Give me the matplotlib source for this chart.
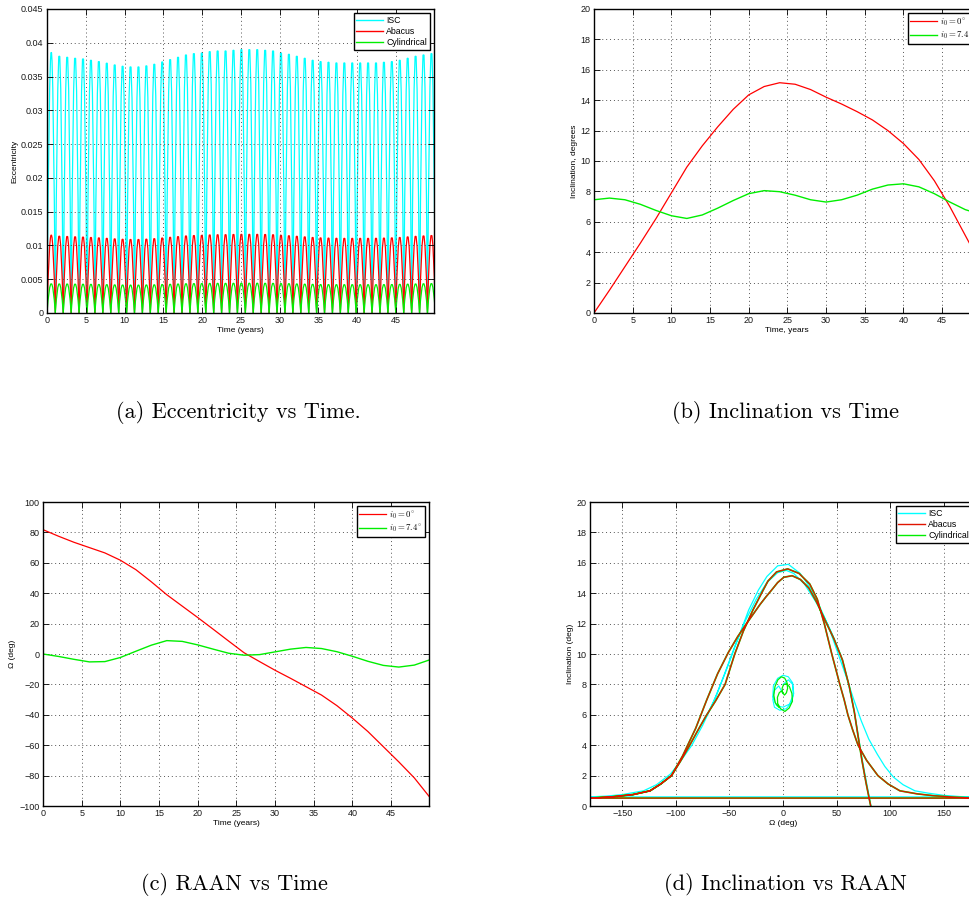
import numpy as np
import matplotlib.pyplot as plt
from matplotlib.path import Path
from matplotlib.patches import PathPatch
from matplotlib.lines import Line2D

plt.rcParams['font.family'] = ['Liberation Sans', 'DejaVu Sans']
plt.rcParams['mathtext.fontset'] = 'cm'

# --- eccentricity: peak value of every orbital cycle ---
ecc_first_peak = 0.56   # years
ecc_period = 1.021      # years
ecc_isc = [0.0387, 0.0386, 0.03845, 0.0383, 0.0382, 0.0380, 0.0378, 0.03756, 0.0373, 0.0371,
           0.0370, 0.0370, 0.03716, 0.0374, 0.03775, 0.0381, 0.03845, 0.0388, 0.0390, 0.0391,
           0.0393, 0.0394, 0.0394, 0.0395, 0.0396, 0.0396, 0.0396, 0.0395, 0.0394, 0.0391,
           0.0389, 0.0386, 0.0383, 0.0380, 0.0378, 0.0377, 0.0376, 0.0376, 0.0376, 0.0376,
           0.0376, 0.0376, 0.0377, 0.0378, 0.0380, 0.0383, 0.0386, 0.0388, 0.0390]
ecc_abacus = [0.01157, 0.01154, 0.01150, 0.01145, 0.01141, 0.01135, 0.01129, 0.01122, 0.01114, 0.01108,
              0.01105, 0.01105, 0.01110, 0.01117, 0.01127, 0.01138, 0.01148, 0.01158, 0.01164, 0.01167,
              0.01173, 0.01176, 0.01177, 0.01180, 0.01182, 0.01182, 0.01182, 0.01180, 0.01176, 0.01168,
              0.01161, 0.01153, 0.01144, 0.01135, 0.01129, 0.01126, 0.01123, 0.01122, 0.01122, 0.01122,
              0.01122, 0.01123, 0.01126, 0.01129, 0.01135, 0.01144, 0.01152, 0.01158, 0.01164]
ecc_cyl = [0.00437, 0.00436, 0.00435, 0.00433, 0.00432, 0.00430, 0.00428, 0.00425, 0.00422, 0.00420,
           0.00419, 0.00419, 0.00421, 0.00423, 0.00427, 0.00431, 0.00435, 0.00439, 0.00441, 0.00442,
           0.00444, 0.00445, 0.00445, 0.00446, 0.00447, 0.00447, 0.00447, 0.00446, 0.00445, 0.00442,
           0.00440, 0.00436, 0.00433, 0.00430, 0.00427, 0.00426, 0.00425, 0.00425, 0.00425, 0.00425,
           0.00425, 0.00425, 0.00426, 0.00427, 0.00430, 0.00433, 0.00436, 0.00439, 0.00441]

# --- slow elements vs time (i0 = 0 deg and i0 = 7.4 deg) ---
t_years = [0, 2, 4, 6, 8, 10, 12, 14, 16, 18, 20, 22, 24, 26, 28, 30, 32, 34, 36, 38, 40,
           42, 44, 46, 48, 49.9]
incl_00 = [0, 1.5, 3.05, 4.6, 6.2, 7.9, 9.6, 11.0, 12.25, 13.4, 14.35, 14.9, 15.15, 15.05, 14.7,
           14.2, 13.75, 13.25, 12.7, 12.0, 11.15, 10.1, 8.7, 7.0, 5.1, 3.3]
incl_74 = [7.45, 7.56, 7.45, 7.15, 6.75, 6.4, 6.22, 6.45, 6.9, 7.4, 7.85, 8.05, 7.98, 7.75, 7.45,
           7.3, 7.45, 7.75, 8.15, 8.42, 8.5, 8.3, 7.85, 7.3, 6.8, 6.5]
raan_00 = [81.8, 77.5, 73.5, 70.0, 66.5, 61.7, 55.5, 47.5, 39.0, 31.5, 24.0, 16.3, 8.5, 0.8, -5.0,
           -10.7, -16.0, -21.5, -27.0, -34.0, -42.2, -51.0, -61.0, -71.0, -81.5, -93.6]
raan_74 = [0, -1.6, -3.5, -5.2, -5.0, -2.3, 1.8, 5.8, 8.8, 8.3, 6.0, 3.2, 0.5, -0.8, -0.4,
           1.4, 3.2, 4.3, 3.6, 1.5, -1.5, -4.8, -7.5, -8.6, -7.3, -4.0]

# --- inclination vs RAAN phase paths ---
# Abacus path continues past the i0 = 0 run above
abacus_raan_tail = [-104, -114, -124, -140, -160, -180, 180, 160, 140, 125, 109, 98, 88.5, 78, 70,
                    65, 60.5, 57, 53, 45.5, 38.5, 32, 25, 15, 4.4, -6, -14, -20, -28, -37, -45,
                    -54, -63, -72, -80, -87, -96, -104, -114, -124, -140, -160, -180]
abacus_incl_tail = [2.0, 1.45, 1.0, 0.75, 0.6, 0.52, 0.52, 0.58, 0.68, 0.8, 1.0, 1.45, 2.0, 3.0, 4.0,
                    5.0, 6.0, 7.0, 8.0, 10.0, 12.0, 13.6, 14.6, 15.3, 15.6, 15.4, 14.8, 14.0, 12.9,
                    11.5, 10.0, 8.0, 6.9, 5.9, 4.9, 4.0, 2.9, 2.0, 1.45, 1.0, 0.75, 0.6, 0.52]
isc_raan = [82, 74, 67, 61, 54, 46, 38, 30, 20, 10, 3, -5, -15, -25, -35, -45, -55, -65, -75, -85,
            -95, -105, -118, -130, -150, -165, -180, 180, 165, 150, 135, 123, 112, 103, 95, 88, 80,
            73, 66, 59, 51, 43, 35, 26, 16, 5, -5, -15, -23, -32, -42, -52, -62, -70, -73]
isc_incl = [0, 3.0, 6.0, 8.1, 9.9, 11.3, 12.5, 13.5, 14.6, 15.3, 15.5, 15.35, 14.7, 13.6, 12.2,
            10.5, 8.6, 6.8, 5.3, 4.0, 3.0, 2.1, 1.4, 1.0, 0.75, 0.65, 0.6, 0.6, 0.62, 0.7, 0.85,
            1.0, 1.4, 1.9, 2.6, 3.4, 4.4, 5.6, 7.0, 8.5, 10.1, 11.7, 13.0, 14.3, 15.3, 15.9, 15.8,
            15.1, 14.2, 12.9, 11.0, 9.1, 7.3, 6.1, 5.7]
isc_loop_raan = [0, -4, -8, -9.5, -8, -3, 3, 8, 10, 9, 5, 0, -5, -9, -9.5, -6, 0, 6, 9.5, 9, 5, 0]
isc_loop_incl = [7.4, 7.9, 7.6, 7.0, 6.5, 6.3, 6.4, 6.8, 7.4, 8.1, 8.5, 8.6, 8.4, 7.9, 7.2, 6.6,
                 6.5, 6.7, 7.3, 8.0, 8.3, 8.0]

model_names = ['ISC', 'Abacus', 'Cylindrical']
case_names = [r'$i_0 = 0^{\circ}$', r'$i_0 = 7.4^{\circ}$']
ecc_ticks = [0, 0.005, 0.01, 0.015, 0.02, 0.025, 0.03, 0.035, 0.04, 0.045]
ecc_ticklabels = ['0', '0.005', '0.01', '0.015', '0.02', '0.025', '0.03', '0.035', '0.04', '0.045']

CYAN, RED, GREEN, DARKRED = '#00ffff', '#ff0000', '#00ee00', '#e01400'
W, H = 970, 918


def px_axes(left, top, right, bottom):
    return fig.add_axes([left / W, 1 - bottom / H, (right - left) / W, (bottom - top) / H])


def style(ax):
    ax.tick_params(direction='in', length=4, width=0.6, top=True, right=True,
                   labelsize=6.5, pad=2.5, labelcolor='#1a1a1a')
    ax.grid(True, linestyle=(0, (1, 3)), color='#555', linewidth=0.7)
    for s in ax.spines.values():
        s.set_linewidth(1.0)


def box_legend(ax, handles, labels):
    leg = ax.legend(handles, labels, loc='upper right', fontsize=6.3, fancybox=False,
                    edgecolor='black', framealpha=1, borderpad=0.3, labelspacing=0.25,
                    handlelength=3.0, handletextpad=0.4, borderaxespad=0.5)
    leg.get_frame().set_linewidth(1.0)


def arches(peaks):
    # rectified oscillation, one quadratic arc per cycle
    verts = [(0.0, 0.0)]
    codes = [Path.MOVETO]
    for k, h in enumerate(peaks):
        tp = ecc_first_peak + k * ecc_period
        verts += [(tp, 2 * h), (tp + ecc_period / 2, 0.0)]
        codes += [Path.CURVE3, Path.CURVE3]
    return Path(verts, codes)


fig = plt.figure(figsize=(W / 100, H / 100), dpi=100)

# (a) eccentricity
ax = px_axes(47, 9, 434, 313)
for peaks, c in zip([ecc_isc, ecc_abacus, ecc_cyl], [CYAN, RED, GREEN]):
    ax.add_patch(PathPatch(arches(peaks), fc='none', ec=c, lw=0.9))
ax.set_xlim(0, 49.9)
ax.set_ylim(0, 0.045)
ax.set_xticks(np.arange(0, 50, 5))
ax.set_yticks(ecc_ticks)
ax.set_yticklabels(ecc_ticklabels)
ax.set_xlabel('Time (years)', fontsize=6, labelpad=1)
ax.set_ylabel('Eccentricity', fontsize=6, labelpad=2)
style(ax)
box_legend(ax, [Line2D([], [], color=c, lw=1) for c in [CYAN, RED, GREEN]], model_names)

# (b) inclination vs time
ax = px_axes(594, 9, 980, 313)
ax.plot(t_years, incl_00, color=RED, lw=0.9, label=case_names[0])
ax.plot(t_years, incl_74, color=GREEN, lw=1.0, label=case_names[1])
ax.set_xlim(0, 49.9)
ax.set_ylim(0, 20)
ax.set_xticks(np.arange(0, 50, 5))
ax.set_yticks(np.arange(0, 21, 2))
ax.set_xlabel('Time, years', fontsize=6, labelpad=1)
ax.set_ylabel('Inclination, degrees', fontsize=6, labelpad=2)
style(ax)
box_legend(ax, *ax.get_legend_handles_labels())

# (c) RAAN vs time
ax = px_axes(43, 502, 429, 806)
ax.plot(t_years, raan_00, color=RED, lw=0.9, label=case_names[0])
ax.plot(t_years, raan_74, color=GREEN, lw=1.0, label=case_names[1])
ax.set_xlim(0, 49.9)
ax.set_ylim(-100, 100)
ax.set_xticks(np.arange(0, 50, 5))
ax.set_yticks(np.arange(-100, 101, 20))
ax.set_xlabel('Time (years)', fontsize=6, labelpad=1)
ax.set_ylabel('Ω (deg)', fontsize=6, labelpad=2)
style(ax)
box_legend(ax, *ax.get_legend_handles_labels())

# (d) inclination vs RAAN
ax = px_axes(590, 502, 976, 806)
abacus_raan = raan_00 + abacus_raan_tail
abacus_incl = incl_00 + abacus_incl_tail
ax.plot(isc_raan, isc_incl, color=CYAN, lw=0.9)
ax.plot(isc_loop_raan, isc_loop_incl, color=CYAN, lw=0.8)
ax.plot(abacus_raan, abacus_incl, color=GREEN, lw=1.25)
ax.plot(abacus_raan, abacus_incl, color=DARKRED, lw=0.9)
ax.plot(raan_74, incl_74, color=GREEN, lw=0.9)
ax.set_xlim(-180, 180)
ax.set_ylim(0, 20)
ax.set_xticks(np.arange(-150, 151, 50))
ax.set_yticks(np.arange(0, 21, 2))
ax.set_xlabel('Ω (deg)', fontsize=6, labelpad=1)
ax.set_ylabel('Inclination (deg)', fontsize=6, labelpad=2)
style(ax)
box_legend(ax, [Line2D([], [], color=c, lw=1) for c in [CYAN, DARKRED, GREEN]], model_names)

# sub-figure captions
cap = dict(fontsize=16, family='cmr10', ha='center', va='center')
fig.text(238 / W, 1 - 413 / H, '(a) Eccentricity vs Time.', **cap)
fig.text(786 / W, 1 - 413 / H, '(b) Inclination vs Time', **cap)
fig.text(234 / W, 1 - 885 / H, '(c) RAAN vs Time', **cap)
fig.text(785 / W, 1 - 885 / H, '(d) Inclination vs RAAN', **cap)

fig.savefig('out.png', dpi=100)
